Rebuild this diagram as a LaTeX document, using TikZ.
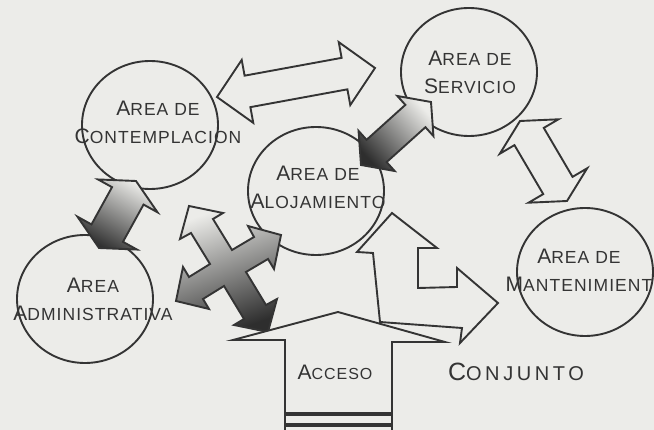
\documentclass[tikz,border=0pt]{standalone}
\usepackage{fontspec}
\newfontfamily\lettering[LetterSpace=6]{Liberation Sans}
\newfontfamily\bigletter[LetterSpace=18]{Liberation Sans}
\usetikzlibrary{calc,shapes.geometric}
\definecolor{paper}{RGB}{236,236,233}
\definecolor{ink}{RGB}{52,52,52}
\newcommand\ini[1]{{\fontsize{21}{21}\selectfont #1}}
% double block arrow: [style]{end a}{end b}{shaft half}{head half}{head length}
\newcommand\dblarr[6][]{%
  \path[#1] (#2) -- ($(#2)!#6!(#3)!#5!90:(#3)$) -- ($(#2)!#6!(#3)!#4!90:(#3)$)
    -- ($(#3)!#6!(#2)!#4!-90:(#2)$) -- ($(#3)!#6!(#2)!#5!-90:(#2)$) -- (#3)
    -- ($(#3)!#6!(#2)!#5!90:(#2)$) -- ($(#3)!#6!(#2)!#4!90:(#2)$)
    -- ($(#2)!#6!(#3)!#4!-90:(#3)$) -- ($(#2)!#6!(#3)!#5!-90:(#3)$) -- cycle;}

\begin{document}
\begin{tikzpicture}[x=1pt,y=-1pt,
area/.style={draw=ink,line width=1.9pt,ellipse,minimum width=136pt,minimum height=128pt,inner sep=0pt},
lbl/.style={text=ink,align=center,font=\lettering\fontsize{17.5}{28}\selectfont},
blk/.style={draw=ink,line width=1.9pt,fill=paper},
shd/.style={draw=ink,line width=1.9pt,top color=black!82,bottom color=paper,shading angle=#1}]
\useasboundingbox (0,0) rectangle (654,430);
\clip (0,0) rectangle (654,430);
\fill[paper] (0,0) rectangle (654,430);

% areas
\node[area] (cont) at (150,125) {};
\node[area] (serv) at (469,72) {};
\node[area] (aloj) at (316,191) {};
\node[area] (admin) at (85,299) {};
\node[area] (mant) at (585,272) {};

% arrow ends
\coordinate (cs1) at (217,97);  \coordinate (cs2) at (375,68);
\coordinate (as1) at (361,165); \coordinate (as2) at (431,102);
\coordinate (sm1) at (520,121); \coordinate (sm2) at (567,201);
\coordinate (ca1) at (136,181); \coordinate (ca2) at (99,248);

\dblarr[blk]{cs1}{cs2}{16pt}{32pt}{31pt}
\dblarr[shd=132]{as1}{as2}{15pt}{27pt}{21pt}
\dblarr[blk]{sm1}{sm2}{17pt}{34pt}{18pt}
\dblarr[shd=151]{ca1}{ca2}{18pt}{34pt}{17pt}

% four way arrow
\path[shd=200] (268,332) -- (234,325) -- (244,319) -- (224,286) -- (203,299) -- (209,309)
  -- (176,301) -- (183,267) -- (189,277) -- (210,264) -- (191,233) -- (180,239) -- (189,206)
  -- (223,213) -- (213,219) -- (232,250) -- (254,237) -- (248,226) -- (281,235) -- (274,269)
  -- (268,259) -- (246,272) -- (266,305) -- (277,299) -- cycle;

% up and right
\path[blk] (380,322) -- (373,253) -- (357,252) -- (392,213) -- (437,248) -- (418,248)
  -- (418,288) -- (457,287) -- (457,268) -- (498,303) -- (460,343) -- (462,328) -- cycle;

% acceso
\path[blk] (233,340) -- (338,312) -- (445,342) -- (392,342) -- (392,440) -- (285,440)
  -- (285,340) -- cycle;
\draw[ink,line width=4pt] (286,414) -- (391,414);
\draw[ink,line width=4pt] (286,425.5) -- (391,425.5);

% labels
\node[lbl] (contt) at (158,122) {\ini{A}REA DE\\\ini{C}ONTEMPLACION};
\node[lbl] (servt) at (470,72) {\ini{A}REA DE\\\ini{S}ERVICIO};
\node[lbl] (alojt) at (318,187) {\ini{A}REA DE\\\ini{A}LOJAMIENTO};
\node[lbl] (admint) at (93,299) {\ini{A}REA\\\ini{A}DMINISTRATIVA};
\node[lbl] (mantt) at (579,270) {\ini{A}REA DE\\\ini{M}ANTENIMIENT};
\node[lbl,font=\lettering\fontsize{16}{20}\selectfont] (acc) at (335,372) {\ini{A}CCESO};
\node[text=ink,font=\bigletter\fontsize{20}{24}\selectfont] (conj) at (516,372)
  {{\fontsize{25}{25}\selectfont C}ONJUNTO};
\end{tikzpicture}
\end{document}
